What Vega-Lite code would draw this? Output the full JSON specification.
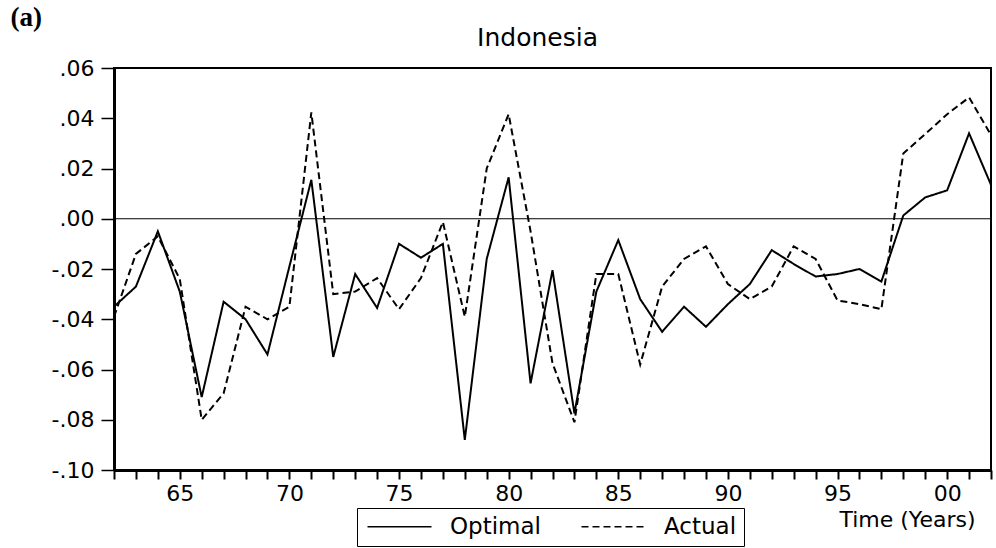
{
  "$schema": "https://vega.github.io/schema/vega-lite/v6.json",
  "width": 877,
  "height": 402,
  "autosize": {"type": "none"},
  "padding": {"left": 114, "top": 68, "right": 5, "bottom": 78},
  "background": "white",
  "config": {
    "view": {"stroke": "black", "strokeWidth": 2},
    "font": "DejaVu Sans"
  },
  "data": {
    "values": [
      {"year": 1962, "series": "Optimal", "value": -0.035},
      {"year": 1963, "series": "Optimal", "value": -0.027},
      {"year": 1964, "series": "Optimal", "value": -0.005},
      {"year": 1965, "series": "Optimal", "value": -0.029},
      {"year": 1966, "series": "Optimal", "value": -0.071},
      {"year": 1967, "series": "Optimal", "value": -0.033},
      {"year": 1968, "series": "Optimal", "value": -0.040},
      {"year": 1969, "series": "Optimal", "value": -0.054},
      {"year": 1970, "series": "Optimal", "value": -0.019},
      {"year": 1971, "series": "Optimal", "value": 0.0155},
      {"year": 1972, "series": "Optimal", "value": -0.055},
      {"year": 1973, "series": "Optimal", "value": -0.022},
      {"year": 1974, "series": "Optimal", "value": -0.0355},
      {"year": 1975, "series": "Optimal", "value": -0.010},
      {"year": 1976, "series": "Optimal", "value": -0.0155},
      {"year": 1977, "series": "Optimal", "value": -0.010},
      {"year": 1978, "series": "Optimal", "value": -0.088},
      {"year": 1979, "series": "Optimal", "value": -0.016},
      {"year": 1980, "series": "Optimal", "value": 0.0165},
      {"year": 1981, "series": "Optimal", "value": -0.0655},
      {"year": 1982, "series": "Optimal", "value": -0.0205},
      {"year": 1983, "series": "Optimal", "value": -0.0775},
      {"year": 1984, "series": "Optimal", "value": -0.029},
      {"year": 1985, "series": "Optimal", "value": -0.0085},
      {"year": 1986, "series": "Optimal", "value": -0.032},
      {"year": 1987, "series": "Optimal", "value": -0.045},
      {"year": 1988, "series": "Optimal", "value": -0.035},
      {"year": 1989, "series": "Optimal", "value": -0.043},
      {"year": 1990, "series": "Optimal", "value": -0.034},
      {"year": 1991, "series": "Optimal", "value": -0.026},
      {"year": 1992, "series": "Optimal", "value": -0.0125},
      {"year": 1993, "series": "Optimal", "value": -0.018},
      {"year": 1994, "series": "Optimal", "value": -0.023},
      {"year": 1995, "series": "Optimal", "value": -0.022},
      {"year": 1996, "series": "Optimal", "value": -0.020},
      {"year": 1997, "series": "Optimal", "value": -0.025},
      {"year": 1998, "series": "Optimal", "value": 0.0013},
      {"year": 1999, "series": "Optimal", "value": 0.0085},
      {"year": 2000, "series": "Optimal", "value": 0.0113},
      {"year": 2001, "series": "Optimal", "value": 0.034},
      {"year": 2002, "series": "Optimal", "value": 0.0135},
      {"year": 1962, "series": "Actual", "value": -0.039},
      {"year": 1963, "series": "Actual", "value": -0.014},
      {"year": 1964, "series": "Actual", "value": -0.007},
      {"year": 1965, "series": "Actual", "value": -0.024},
      {"year": 1966, "series": "Actual", "value": -0.080},
      {"year": 1967, "series": "Actual", "value": -0.0695},
      {"year": 1968, "series": "Actual", "value": -0.035},
      {"year": 1969, "series": "Actual", "value": -0.040},
      {"year": 1970, "series": "Actual", "value": -0.035},
      {"year": 1971, "series": "Actual", "value": 0.0423},
      {"year": 1972, "series": "Actual", "value": -0.030},
      {"year": 1973, "series": "Actual", "value": -0.029},
      {"year": 1974, "series": "Actual", "value": -0.0236},
      {"year": 1975, "series": "Actual", "value": -0.036},
      {"year": 1976, "series": "Actual", "value": -0.0236},
      {"year": 1977, "series": "Actual", "value": -0.0013},
      {"year": 1978, "series": "Actual", "value": -0.039},
      {"year": 1979, "series": "Actual", "value": 0.020},
      {"year": 1980, "series": "Actual", "value": 0.0416},
      {"year": 1981, "series": "Actual", "value": -0.005},
      {"year": 1982, "series": "Actual", "value": -0.0575},
      {"year": 1983, "series": "Actual", "value": -0.081},
      {"year": 1984, "series": "Actual", "value": -0.022},
      {"year": 1985, "series": "Actual", "value": -0.022},
      {"year": 1986, "series": "Actual", "value": -0.058},
      {"year": 1987, "series": "Actual", "value": -0.027},
      {"year": 1988, "series": "Actual", "value": -0.016},
      {"year": 1989, "series": "Actual", "value": -0.011},
      {"year": 1990, "series": "Actual", "value": -0.026},
      {"year": 1991, "series": "Actual", "value": -0.032},
      {"year": 1992, "series": "Actual", "value": -0.027},
      {"year": 1993, "series": "Actual", "value": -0.011},
      {"year": 1994, "series": "Actual", "value": -0.016},
      {"year": 1995, "series": "Actual", "value": -0.0325},
      {"year": 1996, "series": "Actual", "value": -0.034},
      {"year": 1997, "series": "Actual", "value": -0.036},
      {"year": 1998, "series": "Actual", "value": 0.026},
      {"year": 1999, "series": "Actual", "value": 0.0337},
      {"year": 2000, "series": "Actual", "value": 0.0416},
      {"year": 2001, "series": "Actual", "value": 0.0483},
      {"year": 2002, "series": "Actual", "value": 0.0333}
    ]
  },
  "layer": [
    {
      "mark": {"type": "rule", "color": "black", "strokeWidth": 1.2},
      "encoding": {
        "x": {
          "aggregate": "min",
          "field": "year",
          "type": "quantitative",
          "scale": {"domain": [1962, 2002], "nice": false, "zero": false},
          "axis": {
            "orient": "top",
            "domain": false,
            "ticks": false,
            "labels": false,
            "grid": false,
            "title": "Indonesia",
            "titleFont": "DejaVu Sans",
            "titleFontSize": 25,
            "titleFontWeight": "normal",
            "titleColor": "black",
            "titleAlign": "center",
            "titleBaseline": "alphabetic",
            "titleX": 423,
            "titleY": -23
          }
        },
        "x2": {"aggregate": "max", "field": "year"},
        "y": {"datum": 0, "type": "quantitative"}
      }
    },
    {
      "mark": {"type": "line", "color": "black", "strokeWidth": 2},
      "encoding": {
        "x": {
          "field": "year",
          "type": "quantitative",
          "scale": {"domain": [1962, 2002], "nice": false, "zero": false},
          "axis": {
            "orient": "bottom",
            "values": [1962,1963,1964,1965,1966,1967,1968,1969,1970,1971,1972,1973,1974,1975,1976,1977,1978,1979,1980,1981,1982,1983,1984,1985,1986,1987,1988,1989,1990,1991,1992,1993,1994,1995,1996,1997,1998,1999,2000,2001,2002],
            "grid": false,
            "domainColor": "black",
            "domainWidth": 3,
            "tickColor": "black",
            "tickWidth": 2,
            "tickSize": 9,
            "labelExpr": "datum.value % 5 === 0 ? substring(toString(datum.value), 2, 4) : ''",
            "labelFont": "DejaVu Sans",
            "labelFontSize": 22,
            "labelColor": "black",
            "labelPadding": 4,
            "labelFlush": false,
            "labelOverlap": false,
            "encode": {"ticks": {"update": {"y2": {"signal": "datum.value % 5 === 0 ? 9 : 5"}}}},
            "title": "Time (Years)",
            "titleFont": "DejaVu Sans",
            "titleFontSize": 22,
            "titleFontWeight": "normal",
            "titleColor": "black",
            "titleAlign": "right",
            "titleBaseline": "alphabetic",
            "titleX": 861,
            "titleY": 56
          }
        },
        "y": {
          "field": "value",
          "type": "quantitative",
          "scale": {"domain": [-0.1, 0.06], "nice": false, "zero": false},
          "axis": {
            "values": [-0.1, -0.08, -0.06, -0.04, -0.02, 0, 0.02, 0.04, 0.06],
            "grid": false,
            "domainColor": "black",
            "domainWidth": 3,
            "tickColor": "black",
            "tickWidth": 1.5,
            "tickSize": 13,
            "labelExpr": "replace(replace(format(datum.value, '.2f'), '0.', '.'), '−', '-')",
            "labelFont": "DejaVu Sans",
            "labelFontSize": 22,
            "labelColor": "black",
            "labelPadding": 7,
            "title": "(a)",
            "titleFont": "Liberation Serif",
            "titleFontSize": 27,
            "titleFontWeight": "bold",
            "titleColor": "black",
            "titleAngle": 0,
            "titleAlign": "left",
            "titleBaseline": "alphabetic",
            "titleX": -104,
            "titleY": -43
          }
        },
        "strokeDash": {
          "field": "series",
          "type": "nominal",
          "scale": {"domain": ["Optimal", "Actual"], "range": [[1, 0], [7, 4]]},
          "legend": {
            "orient": "none",
            "legendX": 243,
            "legendY": 440,
            "direction": "horizontal",
            "title": null,
            "strokeColor": "black",
            "fillColor": "white",
            "padding": 7,
            "symbolType": "M-1,0H7",
            "symbolSize": 256,
            "symbolStrokeWidth": 1.5,
            "symbolStrokeColor": "black",
            "labelFont": "DejaVu Sans",
            "labelFontSize": 23,
            "labelColor": "black",
            "labelOffset": 63,
            "columnPadding": 36
          }
        }
      }
    }
  ],
  "resolve": {"axis": {"x": "independent"}}
}
